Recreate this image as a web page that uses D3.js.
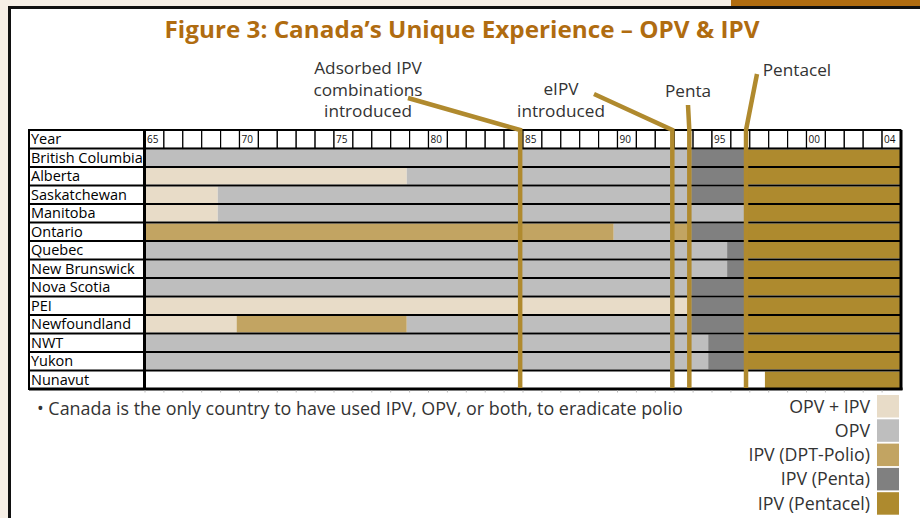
<!DOCTYPE html>
<html>
<head>
<meta charset="utf-8">
<script src="https://cdn.jsdelivr.net/npm/d3@7"></script>
<style>
  html, body { margin: 0; padding: 0; background: #f6efe6; }
  svg { display: block; }
</style>
</head>
<body>
<div id="chart"></div>
<script>
// --- data ---
const provinces = ["British Columbia", "Alberta", "Saskatchewan", "Manitoba", "Ontario",
  "Quebec", "New Brunswick", "Nova Scotia", "PEI", "Newfoundland", "NWT", "Yukon", "Nunavut"];

// year boundaries of each programme period, per province
const periodBreaks = [
  [1965, 1993.9, 1996.7, 2005],
  [1965, 1978.85, 1993.9, 1996.7, 2005],
  [1965, 1968.85, 1993.9, 1996.7, 2005],
  [1965, 1968.85, 1996.7, 2005],
  [1965, 1989.8, 1992.9, 1993.9, 1996.7, 2005],
  [1965, 1995.8, 1996.7, 2005],
  [1965, 1995.8, 1996.7, 2005],
  [1965, 1993.9, 1996.7, 2005],
  [1965, 1993.9, 1996.7, 2005],
  [1965, 1969.85, 1978.85, 1993.9, 1996.7, 2005],
  [1965, 1994.8, 1996.7, 2005],
  [1965, 1994.8, 1996.7, 2005],
  [1965, 1997.8, 2005]
];
// programme used in each period (null = none)
const periodPrograms = [
  ["OPV", "IPV (Penta)", "IPV (Pentacel)"],
  ["OPV + IPV", "OPV", "IPV (Penta)", "IPV (Pentacel)"],
  ["OPV + IPV", "OPV", "IPV (Penta)", "IPV (Pentacel)"],
  ["OPV + IPV", "OPV", "IPV (Pentacel)"],
  ["IPV (DPT-Polio)", "OPV", "IPV (DPT-Polio)", "IPV (Penta)", "IPV (Pentacel)"],
  ["OPV", "IPV (Penta)", "IPV (Pentacel)"],
  ["OPV", "IPV (Penta)", "IPV (Pentacel)"],
  ["OPV", "IPV (Penta)", "IPV (Pentacel)"],
  ["OPV + IPV", "IPV (Penta)", "IPV (Pentacel)"],
  ["OPV + IPV", "IPV (DPT-Polio)", "OPV", "IPV (Penta)", "IPV (Pentacel)"],
  ["OPV", "IPV (Penta)", "IPV (Pentacel)"],
  ["OPV", "IPV (Penta)", "IPV (Pentacel)"],
  [null, "IPV (Pentacel)"]
];

const legendLabels = ["OPV + IPV", "OPV", "IPV (DPT-Polio)", "IPV (Penta)", "IPV (Pentacel)"];
const legendColors = ["#e8dcc8", "#bebebe", "#c2a462", "#808080", "#ae8a2e"];

const tickYears = [1965, 1970, 1975, 1980, 1985, 1990, 1995, 2000, 2004];
const eventNames = [["Adsorbed IPV", "combinations", "introduced"], ["eIPV", "introduced"], ["Penta"], ["Pentacel"]];
const eventYears = [1984.85, 1992.9, 1993.8, 1996.8];

const titleText = "Figure 3: Canada\u2019s Unique Experience \u2013 OPV & IPV";
const noteText = "\u2022 Canada is the only country to have used IPV, OPV, or both, to eradicate polio";

// --- layout ---
const width = 920, height = 518;
const rowTop = 130, rowH = 18.5;
const labelLeft = 29, gridLeft = 145, gridRight = 901;
const bottom = rowTop + rowH * (provinces.length + 1);
const lineColor = "#b08a2e";
const textColor = "#333";
const font = "'Open Sans', 'Noto Sans', sans-serif";

const x = d3.scaleLinear().domain([1965, 2005]).range([gridLeft, gridRight]);
const color = d3.scaleOrdinal().domain(legendLabels).range(legendColors);
const y = d3.scaleBand().domain(["Year"].concat(provinces))
    .range([rowTop, bottom]).padding(0);

const svg = d3.select("#chart").append("svg")
    .attr("width", width)
    .attr("height", height)
    .attr("viewBox", [0, 0, width, height]);

// page frame
svg.append("rect").attr("width", width).attr("height", height).attr("fill", "#f6efe6");
svg.append("rect").attr("x", 731).attr("y", 0).attr("width", 189).attr("height", 6).attr("fill", "#b06c10");
svg.append("rect")
    .attr("x", 9.5).attr("y", 7.5).attr("width", 930).attr("height", 530)
    .attr("fill", "#fff").attr("stroke", "#111").attr("stroke-width", 3);

svg.append("text")
    .attr("x", 462).attr("y", 38)
    .attr("text-anchor", "middle")
    .attr("font-family", font).attr("font-weight", 700).attr("font-size", 23)
    .attr("textLength", 595).attr("lengthAdjust", "spacingAndGlyphs")
    .attr("fill", "#b06c10")
    .text(titleText);

// year header cells
const years = d3.range(1965, 2005);
const header = svg.append("g").attr("class", "year-header");
header.selectAll("rect")
  .data(years)
  .join("rect")
    .attr("x", d => x(d))
    .attr("y", y("Year"))
    .attr("width", x(1966) - x(1965))
    .attr("height", y.bandwidth())
    .attr("fill", "#fff")
    .attr("stroke", "#000")
    .attr("stroke-width", 1.2);
header.selectAll("text")
  .data(tickYears)
  .join("text")
    .attr("x", d => x(d) + 2)
    .attr("y", y("Year") + 13)
    .attr("font-family", font).attr("font-size", 10)
    .attr("fill", "#111")
    .text(d => String(d).slice(2));

// province bars
const rows = svg.append("g").attr("class", "rows")
  .selectAll("g")
  .data(provinces)
  .join("g");

rows.selectAll("rect")
  .data((p, i) => periodPrograms[i].map((prog, j) => ({
      prov: p, prog, start: periodBreaks[i][j], end: periodBreaks[i][j + 1]
  })).filter(d => d.prog))
  .join("rect")
    .attr("x", d => x(d.start))
    .attr("y", d => y(d.prov) + 1)
    .attr("width", d => x(d.end) - x(d.start))
    .attr("height", y.bandwidth() - 2)
    .attr("fill", d => color(d.prog));

// row separators
svg.append("g")
  .selectAll("line")
  .data(provinces)
  .join("line")
    .attr("x1", labelLeft).attr("x2", gridRight)
    .attr("y1", d => y(d)).attr("y2", d => y(d))
    .attr("stroke", "#000").attr("stroke-width", 2);

// label column
svg.append("rect")
    .attr("x", labelLeft).attr("y", rowTop)
    .attr("width", gridLeft - labelLeft).attr("height", bottom - rowTop)
    .attr("fill", "none").attr("stroke", "#000").attr("stroke-width", 2);
svg.append("g")
  .selectAll("text")
  .data(["Year"].concat(provinces))
  .join("text")
    .attr("x", labelLeft + 2)
    .attr("y", d => y(d) + y.bandwidth() / 2 + 5)
    .attr("font-family", font).attr("font-size", 14.5)
    .attr("fill", "#000")
    .text(d => d);

// outer grid border
svg.append("line").attr("x1", gridLeft - 0.5).attr("x2", gridLeft - 0.5)
    .attr("y1", rowTop).attr("y2", bottom).attr("stroke", "#000").attr("stroke-width", 3);
svg.append("line").attr("x1", gridRight).attr("x2", gridRight)
    .attr("y1", rowTop).attr("y2", bottom + 1).attr("stroke", "#000").attr("stroke-width", 3);
svg.append("line").attr("x1", labelLeft).attr("x2", gridRight + 1.5)
    .attr("y1", bottom).attr("y2", bottom).attr("stroke", "#000").attr("stroke-width", 3);
svg.append("line").attr("x1", labelLeft).attr("x2", gridRight)
    .attr("y1", rowTop).attr("y2", rowTop).attr("stroke", "#000").attr("stroke-width", 2);

// faint year ticks under the grid
svg.append("g")
  .selectAll("line")
  .data(years)
  .join("line")
    .attr("x1", d => x(d)).attr("x2", d => x(d))
    .attr("y1", bottom + 1.5).attr("y2", bottom + 3.5)
    .attr("stroke", "#bbb").attr("stroke-width", 1);

// event annotations: leader start, text centre, first baseline
const eventLayout = [
  { from: [408, 98], tx: 368, ty: 74 },
  { from: [594, 94], tx: 561, ty: 95 },
  { from: [688, 105], tx: 688, ty: 97 },
  { from: [757, 74], tx: 797, ty: 76 }
];
const events = svg.append("g").attr("class", "events");
eventYears.forEach((yr, i) => {
  const L = eventLayout[i];
  const ex = x(yr);
  events.append("path")
      .attr("d", d3.line()([L.from, [ex, rowTop], [ex, bottom - 1]]))
      .attr("fill", "none")
      .attr("stroke", lineColor)
      .attr("stroke-width", 4.5);
  events.append("text")
      .attr("text-anchor", "middle")
      .attr("font-family", font).attr("font-size", 17.2)
      .attr("fill", textColor)
    .selectAll("tspan")
    .data(eventNames[i])
    .join("tspan")
      .attr("x", L.tx)
      .attr("y", (d, k) => L.ty + k * 21.5)
      .text(d => d);
});

// footnote
svg.append("text")
    .attr("x", 37).attr("y", 415)
    .attr("font-family", font).attr("font-size", 17.9)
    .attr("fill", textColor)
    .text(noteText);

// legend
const legend = svg.append("g").attr("class", "legend")
  .selectAll("g")
  .data(legendLabels)
  .join("g")
    .attr("transform", (d, i) => `translate(0, ${395 + i * 24.3})`);
legend.append("rect")
    .attr("x", 877).attr("width", 22).attr("height", 22.5)
    .attr("fill", d => color(d));
legend.append("text")
    .attr("x", 870).attr("y", 17.5)
    .attr("text-anchor", "end")
    .attr("font-family", font).attr("font-size", 17.8)
    .attr("fill", textColor)
    .text(d => d);
</script>
</body>
</html>
